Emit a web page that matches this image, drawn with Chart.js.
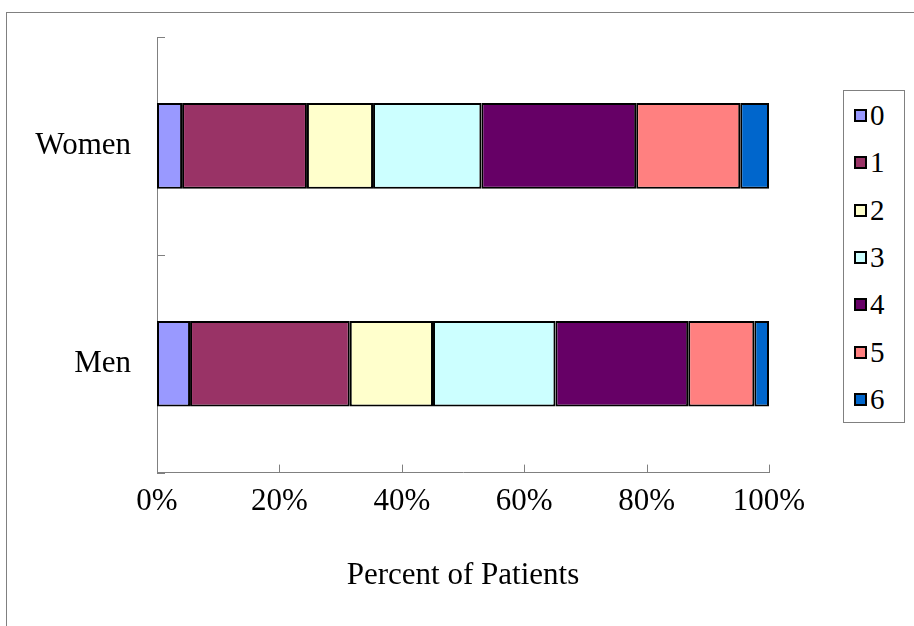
<!DOCTYPE html>
<html>
<head>
<meta charset="utf-8">
<script src="https://cdn.jsdelivr.net/npm/chart.js@4.4.1/dist/chart.umd.min.js"></script>
<style>
  html, body { margin: 0; padding: 0; background: #fff; }
  #wrap { position: relative; width: 914px; height: 626px; overflow: hidden; }
  #frame { position: absolute; left: 6px; top: 12px; width: 1000px; height: 700px; border: 1px solid #808080; box-sizing: border-box; }
  canvas { position: absolute; left: 0; top: 0; }
  #legend { position: absolute; left: 843px; top: 90px; width: 62px; height: 333px; border: 1px solid #808080; box-sizing: border-box; background: #fff; padding-top: 1px; }
  .item { height: 47.3px; display: flex; align-items: center; font-family: "Liberation Serif", serif; font-size: 29px; color: #000; }
  .sw { width: 9px; height: 9px; border: 2px solid #000; margin-left: 10px; margin-right: 3px; }
</style>
</head>
<body>
<div id="wrap">
  <div id="frame"></div>
  <canvas id="c" width="914" height="626"></canvas>
  <div id="legend"></div>
</div>
<script>
const categories = ["Women", "Men"];
const seriesNames = ["0", "1", "2", "3", "4", "5", "6"];
const women = [4.1, 20.4, 10.8, 17.7, 25.3, 17.0, 4.7];
const men   = [5.4, 26.1, 13.6, 20.0, 21.7, 10.8, 2.4];
const colors = ["#9999FF", "#993366", "#FFFFCC", "#CCFFFF", "#660066", "#FF8080", "#0066CC"];
const xTicks = [0, 20, 40, 60, 80, 100];
const xTitle = "Percent of Patients";

const datasets = seriesNames.map((n, i) => ({
  label: n,
  data: [women[i], men[i]],
  backgroundColor: colors[i],
  borderColor: "#000",
  borderWidth: 2,
  borderSkipped: false,
  categoryPercentage: 1,
  barPercentage: 0.393
}));

const innerTicks = {
  id: "innerTicks",
  afterDraw(chart) {
    const ctx = chart.ctx;
    const xs = chart.scales.x, ys = chart.scales.y;
    ctx.save();
    ctx.strokeStyle = "#808080";
    ctx.lineWidth = 1;
    ctx.beginPath();
    xTicks.forEach(v => {
      const px = Math.round(xs.getPixelForValue(v)) + 0.5;
      ctx.moveTo(px, ys.bottom);
      ctx.lineTo(px, ys.bottom - 8);
    });
    const n = categories.length;
    for (let i = 0; i <= n; i++) {
      const py = Math.round(ys.top + (ys.bottom - ys.top) * i / n) + 0.5;
      ctx.moveTo(xs.left, py);
      ctx.lineTo(xs.left + 8, py);
    }
    ctx.stroke();
    ctx.restore();
  }
};

const font = "'Liberation Serif', 'Times New Roman', serif";

new Chart(document.getElementById("c"), {
  type: "bar",
  data: { labels: categories, datasets },
  options: {
    indexAxis: "y",
    responsive: false,
    animation: false,
    devicePixelRatio: 1,
    layout: { padding: { left: 0, top: 37, right: 145, bottom: 32 } },
    plugins: { legend: { display: false }, tooltip: { enabled: false } },
    scales: {
      x: {
        stacked: true,
        min: 0, max: 100,
        afterBuildTicks(scale) { scale.ticks = xTicks.map(v => ({ value: v })); },
        ticks: { callback: v => v + "%", color: "#000", font: { family: font, size: 31 }, padding: 3, maxRotation: 0 },
        grid: { display: false },
        border: { display: true, color: "#808080", width: 1 },
        title: { display: true, text: xTitle, color: "#000", font: { family: font, size: 31 }, padding: { top: 33, bottom: 0 } }
      },
      y: {
        stacked: true,
        afterFit(scale) { scale.width = 157; },
        ticks: { color: "#000", font: { family: font, size: 31 }, padding: 18 },
        grid: { display: false },
        border: { display: true, color: "#808080", width: 1 }
      }
    }
  },
  plugins: [innerTicks]
});

const leg = document.getElementById("legend");
seriesNames.forEach((n, i) => {
  const d = document.createElement("div");
  d.className = "item";
  const s = document.createElement("span");
  s.className = "sw";
  s.style.background = colors[i];
  d.appendChild(s);
  d.appendChild(document.createTextNode(n));
  leg.appendChild(d);
});
</script>
</body>
</html>
